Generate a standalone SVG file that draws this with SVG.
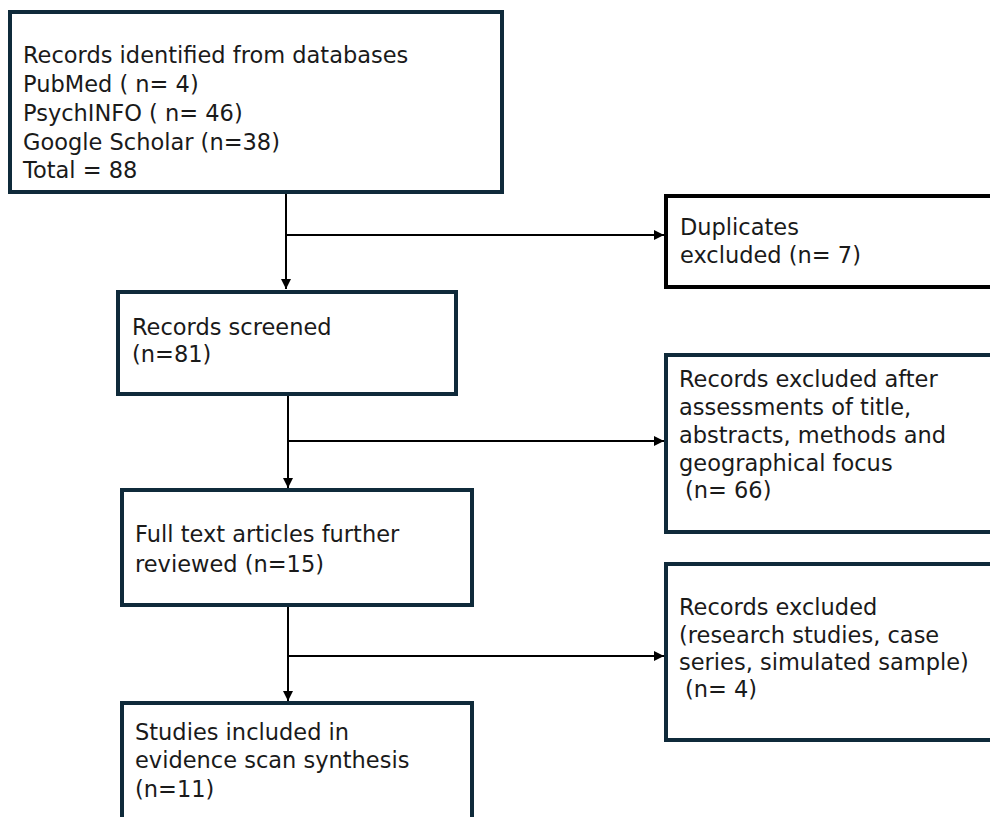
<svg xmlns="http://www.w3.org/2000/svg" width="990" height="817" viewBox="0 0 990 817">
<defs>
<marker id="ah" viewBox="0 0 10 10" refX="10" refY="5" markerWidth="10" markerHeight="10" markerUnits="userSpaceOnUse" orient="auto">
<path d="M0,0 L10,5 L0,10 z" fill="#000"/>
</marker>
</defs>
<style>
.box{fill:#fff;stroke:#0f2a3a;stroke-width:4}
.boxk{fill:#fff;stroke:#000;stroke-width:4}
.t{font-family:"DejaVu Sans","Liberation Sans",sans-serif;font-size:22.5px;fill:#1a1a1a}
.c{fill:none;stroke:#000;stroke-width:2}
</style>
<rect width="990" height="817" fill="#fff"/>
<g id="connectors">
<line class="c" x1="286" y1="192" x2="286" y2="289" marker-end="url(#ah)"/>
<line class="c" x1="286" y1="235" x2="664" y2="235" marker-end="url(#ah)"/>
<line class="c" x1="288" y1="394" x2="288" y2="488" marker-end="url(#ah)"/>
<line class="c" x1="288" y1="441" x2="664" y2="441" marker-end="url(#ah)"/>
<line class="c" x1="288" y1="605" x2="288" y2="701" marker-end="url(#ah)"/>
<line class="c" x1="288" y1="656" x2="664" y2="656" marker-end="url(#ah)"/>
</g>
<g id="n1">
<rect class="box" x="10" y="12" width="492" height="180"/>
<text class="t" x="23" y="63">Records identified from databases</text>
<text class="t" x="23" y="92">PubMed ( n= 4)</text>
<text class="t" x="23" y="121">PsychINFO ( n= 46)</text>
<text class="t" x="23" y="150">Google Scholar (n=38)</text>
<text class="t" x="23" y="178">Total = 88</text>
</g>
<g id="n2">
<rect class="boxk" x="666" y="196" width="340" height="91"/>
<text class="t" x="680" y="235">Duplicates</text>
<text class="t" x="680" y="263">excluded (n= 7)</text>
</g>
<g id="n3">
<rect class="box" x="118" y="292" width="338" height="102"/>
<text class="t" x="132" y="335">Records screened</text>
<text class="t" x="132" y="362">(n=81)</text>
</g>
<g id="n4">
<rect class="box" x="666" y="355" width="340" height="177"/>
<text class="t" x="679" y="387">Records excluded after</text>
<text class="t" x="679" y="415">assessments of title,</text>
<text class="t" x="679" y="443">abstracts, methods and</text>
<text class="t" x="679" y="471">geographical focus</text>
<text class="t" x="685" y="498">(n= 66)</text>
</g>
<g id="n5">
<rect class="box" x="122" y="490" width="350" height="115"/>
<text class="t" x="135" y="542">Full text articles further</text>
<text class="t" x="135" y="572">reviewed (n=15)</text>
</g>
<g id="n6">
<rect class="box" x="666" y="564" width="340" height="176"/>
<text class="t" x="679" y="615">Records excluded</text>
<text class="t" x="679" y="643">(research studies, case</text>
<text class="t" x="679" y="670">series, simulated sample)</text>
<text class="t" x="685" y="697">(n= 4)</text>
</g>
<g id="n7">
<rect class="box" x="122" y="703" width="350" height="130"/>
<text class="t" x="135" y="740">Studies included in</text>
<text class="t" x="135" y="768">evidence scan synthesis</text>
<text class="t" x="135" y="797">(n=11)</text>
</g>
</svg>
